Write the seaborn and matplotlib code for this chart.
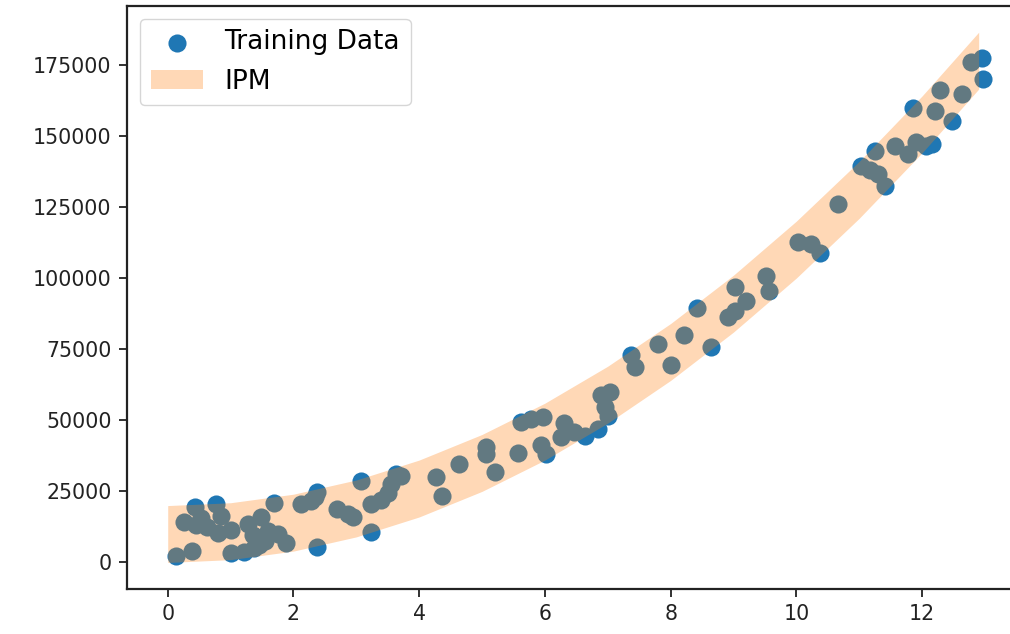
import numpy as np
import pandas as pd
import matplotlib
matplotlib.use("Agg")
import matplotlib.pyplot as plt
import seaborn as sns

# Training observations
train_x = [0.13, 0.39, 0.43, 0.26, 0.53, 0.45, 0.76, 0.63, 0.84, 0.80,
           1.00, 1.00, 1.27, 1.48, 1.35, 1.22, 1.37, 1.55, 1.69, 1.59,
           1.75, 1.88, 1.45,
           2.12, 2.28, 2.35, 2.38, 2.38, 2.70, 2.86, 2.95, 3.07, 3.23,
           3.23, 3.39, 3.50, 3.55, 3.63, 3.71, 4.27, 4.37, 4.64,
           5.06, 5.06, 5.20, 5.57, 5.62, 5.78, 5.97, 5.94, 6.02, 6.31,
           6.26, 6.47, 6.63, 6.84, 6.90, 7.03, 6.95, 7.00, 7.37, 7.43,
           7.80, 8.00, 8.21, 8.42, 8.64, 8.91, 9.02, 9.02, 9.20, 9.52,
           9.57, 10.03, 10.24, 10.38,
           10.67, 11.03, 11.17, 11.25, 11.30, 11.41, 11.57, 11.78, 11.86,
           11.91, 12.07, 12.15, 12.20, 12.28, 12.47, 12.63, 12.78, 12.95, 12.97]
train_y = [2100, 4000, 19500, 14200, 15500, 13000, 20500, 12500, 16500, 10500,
           11500, 3200, 13500, 16000, 9500, 3800, 5000, 7500, 21000, 11000,
           10000, 6800, 6200,
           20600, 21500, 23000, 24700, 5400, 18900, 17100, 16000, 28800, 10650,
           20600, 22000, 24500, 27500, 31200, 30500, 30000, 23500, 34700,
           40500, 38000, 31700, 38600, 49500, 50500, 51000, 41300, 38000, 49000,
           44000, 46000, 44600, 47000, 58700, 59800, 54500, 51500, 73000, 68600,
           76900, 69500, 80000, 89500, 75900, 86300, 88500, 97000, 92000, 100600,
           95600, 112800, 112000, 108800,
           126000, 139500, 137800, 144800, 136600, 132500, 146500, 143600, 159800,
           147700, 146500, 147100, 158800, 166000, 155100, 164700, 175800, 177500, 170000]

# IPM bounds
ipm_x = [0, 1, 2, 3, 4, 5, 6, 7, 8, 9, 10, 11, 12, 12.9]
ipm_lower = [0, 1000, 4000, 9000, 16000, 25000, 36000, 49000, 64000,
             81000, 100000, 121000, 144000, 166400]
ipm_upper = [20000, 21000, 24000, 29000, 36000, 45000, 56000, 69000, 84000,
             101000, 120000, 141000, 164000, 186400]

x_ticks = [0, 2, 4, 6, 8, 10, 12]
y_ticks = [0, 25000, 50000, 75000, 100000, 125000, 150000, 175000]

train = pd.DataFrame({"x": train_x, "y": train_y})

fig = plt.figure(figsize=(10.1, 6.34), dpi=100)
ax = fig.add_axes([0.1257, 0.071, 0.888, 0.920])

sns.scatterplot(data=train, x="x", y="y", ax=ax, color="#1f77b4",
                s=170, linewidth=0, label="Training Data", zorder=2)
ax.fill_between(ipm_x, ipm_lower, ipm_upper, color="tab:orange",
                alpha=0.3, linewidth=0, label="IPM", zorder=3)

ax.set_xticks(x_ticks)
ax.set_yticks(y_ticks)
ax.set_xlabel("")
ax.set_ylabel("")
ax.tick_params(labelsize=14.8, length=6, width=1.3, color="#222222",
               labelcolor="#222222", pad=5)
for sp in ax.spines.values():
    sp.set_linewidth(1.6)
    sp.set_color("#222222")

ax.legend(loc="upper left", fontsize=19)

fig.savefig("out.png", dpi=100)
